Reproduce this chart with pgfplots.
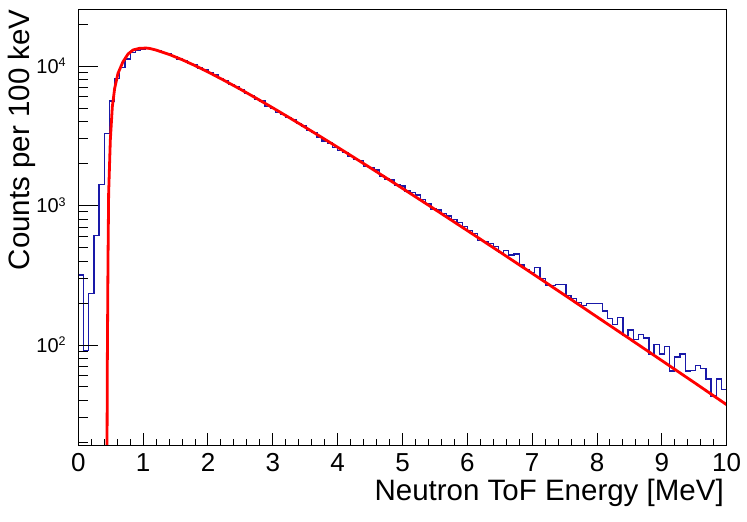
\documentclass[border=0pt]{standalone}
\usepackage{fontspec}
\setmainfont{Liberation Sans}
\usepackage{pgfplots}
\pgfplotsset{compat=1.18}
\definecolor{histblue}{rgb}{0.1,0.1,0.66}
\newcommand{\xlab}{\fontsize{26}{28}\selectfont}
\newcommand{\ylab}{\fontsize{20}{22}\selectfont}
\newcommand{\ttl}{\fontsize{29.5}{31}\selectfont}
\newcommand{\tp}[1]{10\raisebox{6.5pt}{\fontsize{12.5}{13}\selectfont #1}}
\begin{document}
\begin{tikzpicture}
\path[use as bounding box] (0,0) rectangle (747pt,522pt);
\begin{axis}[
  at={(78.3pt,76.5pt)}, anchor=south west,
  scale only axis, width=648.4pt, height=436.2pt,
  xmin=0, xmax=10, ymode=log, ymin=19.04, ymax=25500,
  tick pos=left, tick align=inside,
  xtick={0,1,2,3,4,5,6,7,8,9,10},
  xticklabels={0,1,2,3,4,5,6,7,8,9,10},
  minor x tick num=4,
  major tick length=13pt, minor tick length=6.5pt,
  ytick=\empty, yminorticks=false,
  axis line style={line width=1pt},
  tick style={black, line width=1pt},
  xticklabel style={font=\xlab, inner sep=0pt, yshift=-8pt},
  xlabel={Neutron ToF Energy [MeV]},
  xlabel style={font=\ttl, at={(axis description cs:0.9958,-0.125)}, anchor=base east, inner sep=0pt},
  ylabel={Counts per 100 keV},
  ylabel style={font=\ttl, at={(axis description cs:-0.1084,1)}, anchor=north east, inner sep=0pt},
]
\addplot[const plot mark left, histblue, line width=1.3pt] coordinates {
(0.00,318) (0.08,91) (0.16,235) (0.24,608) (0.32,1410) (0.40,3270) (0.48,5610) (0.56,8160)
(0.64,9790) (0.72,11220) (0.80,12450) (0.88,12880) (0.96,13240) (1.04,13300) (1.12,13200) (1.20,12900)
(1.28,12550) (1.36,12200) (1.44,11750) (1.52,11250) (1.60,10950) (1.68,10400) (1.76,10150) (1.84,9700)
(1.92,9350) (2.00,8950) (2.08,8600) (2.16,8150) (2.24,7850) (2.32,7400) (2.40,7100) (2.48,6800)
(2.56,6350) (2.64,6150) (2.72,5750) (2.80,5600) (2.88,5150) (2.96,4950) (3.04,4650) (3.12,4480)
(3.20,4250) (3.28,4120) (3.36,3850) (3.44,3720) (3.52,3450) (3.60,3350) (3.68,3080) (3.76,2900)
(3.84,2800) (3.92,2620) (4.00,2470) (4.08,2405) (4.16,2237) (4.24,2144) (4.32,2095) (4.40,1897)
(4.48,1880) (4.56,1795) (4.64,1626) (4.72,1548) (4.80,1523) (4.88,1403) (4.96,1380) (5.04,1271)
(5.12,1236) (5.20,1189) (5.28,1100) (5.36,1038) (5.44,944) (5.52,929) (5.60,879) (5.68,841)
(5.76,790) (5.84,753) (5.92,705) (6.00,660) (6.08,632) (6.16,560) (6.24,555) (6.32,536)
(6.40,507) (6.48,462) (6.56,474) (6.64,442) (6.72,449) (6.80,374) (6.88,349) (6.96,332)
(7.04,358) (7.12,301) (7.20,269) (7.28,266) (7.36,272) (7.44,270) (7.52,226) (7.60,216)
(7.68,202) (7.76,191) (7.84,198) (7.92,198) (8.00,199) (8.08,175) (8.16,155) (8.24,141)
(8.32,158) (8.40,117) (8.48,128) (8.56,110) (8.64,119) (8.72,112) (8.80,86) (8.88,101)
(8.96,86) (9.04,98) (9.12,65) (9.20,82) (9.28,86) (9.36,65) (9.44,66) (9.52,71)
(9.60,68) (9.68,57) (9.76,43) (9.84,57) (9.92,48) (10.00,48)
};
\addplot[red, line width=2.8pt, line join=round] coordinates {
(0.440,10) (0.443,19) (0.448,78) (0.458,400) (0.468,1222) (0.494,2951) (0.525,5110) (0.561,6920)
(0.612,8860) (0.689,10730) (0.767,12190) (0.844,13030) (0.946,13390) (1.049,13450) (1.10,13363)
(1.2,13010) (1.4,12113) (1.6,11102) (1.8,10069) (2.0,9067) (2.25,7883) (2.5,6815) (2.75,5855)
(3.0,5013) (3.25,4276) (3.5,3638) (3.75,3088) (4.0,2616) (4.25,2212) (4.5,1868) (4.75,1575)
(5.0,1326) (5.5,938) (6.0,661) (6.5,465) (7.0,326) (7.5,228) (8.0,159) (8.5,111)
(9.0,77.3) (9.5,53.8) (10.0,37.3)
};
\end{axis}
\begin{axis}[
  at={(78.3pt,76.5pt)}, anchor=south west,
  scale only axis, width=648.4pt, height=436.2pt,
  xmin=0, xmax=10, ymode=log, ymin=19.04, ymax=25500,
  tick pos=left, tick align=inside,
  xtick=\empty, xminorticks=false,
  ytick={100,1000,10000},
  yticklabels={\tp{2},\tp{3},\tp{4}},
  minor ytick={20,30,40,50,60,70,80,90,200,300,400,500,600,700,800,900,2000,3000,4000,5000,6000,7000,8000,9000,20000},
  major tick length=19.5pt, minor tick length=9.7pt,
  axis line style={line width=1pt},
  tick style={black, line width=1pt},
  yticklabel style={font=\ylab, anchor=base east, inner sep=0pt, xshift=-12.5pt, yshift=-7.2pt},
]
\addplot[draw=none] coordinates {(1,100)};
\end{axis}
\end{tikzpicture}
\end{document}
